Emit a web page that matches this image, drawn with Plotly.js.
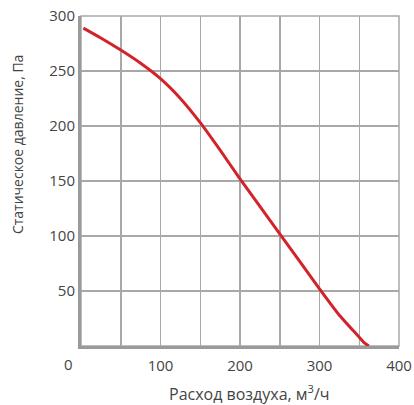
<!DOCTYPE html>
<html>
<head>
<meta charset="utf-8">
<script src="https://cdn.plot.ly/plotly-3.0.1.min.js"></script>
<style>html,body{margin:0;padding:0;background:#fff;}#chart{width:414px;height:405px;}</style>
</head>
<body>
<div id="chart"></div>
<script>
var airflow = [3, 25, 50, 75, 100, 125, 150, 175, 200, 250, 300, 325, 350, 356, 362];
var pressure = [289, 280, 269, 257, 243, 225, 203, 178, 152, 102, 52, 28, 8, 3, 0];
var xTicks = [100, 200, 300, 400];
var yTicks = [50, 100, 150, 200, 250, 300];
var xTitle = 'Расход воздуха, м<sup>3</sup>/ч';
var yTitle = 'Статическое давление, Па';
var cornerLabel = '0';

var fontFam = '"Open Sans", "Noto Sans", sans-serif';
var data = [{
  x: airflow, y: pressure, type: 'scatter', mode: 'lines',
  line: {color: '#d2232a', width: 3, shape: 'spline', smoothing: 0.5},
  hoverinfo: 'skip'
}];
var layout = {
  width: 414, height: 405,
  margin: {l: 81, r: 15, t: 16, b: 59},
  paper_bgcolor: '#fff', plot_bgcolor: '#fff',
  showlegend: false,
  font: {family: fontFam, size: 14, color: '#444'},
  xaxis: {
    range: [0, 400], tickvals: xTicks, ticktext: xTicks.map(String),
    showgrid: true, gridcolor: '#a8a8a8', gridwidth: 1.5,
    showline: true, linecolor: '#9a9a9a', linewidth: 3,
    ticks: '', zeroline: false, fixedrange: true, ticklabelstandoff: 4,
    tickfont: {family: fontFam, size: 15, color: '#444'},
    minor: {dtick: 50, tick0: 0, showgrid: true, gridcolor: '#a8a8a8', gridwidth: 1.5}
  },
  yaxis: {
    range: [0, 300], tickvals: yTicks,
    showgrid: true, gridcolor: '#a8a8a8', gridwidth: 1.5,
    showline: true, linecolor: '#9a9a9a', linewidth: 3,
    ticks: '', zeroline: false, fixedrange: true,
    tickfont: {family: fontFam, size: 15, color: '#444'}
  },
  shapes: [{
    type: 'rect', xref: 'paper', yref: 'paper', x0: 0, x1: 1, y0: 0, y1: 1,
    line: {color: '#a8a8a8', width: 1.5}, layer: 'below'
  }],
  annotations: [{
    text: cornerLabel, xref: 'paper', yref: 'paper', x: -0.038, y: -0.055,
    xanchor: 'center', yanchor: 'middle', showarrow: false,
    font: {family: fontFam, size: 15, color: '#444'}
  }, {
    text: xTitle, xref: 'paper', yref: 'paper', x: 0.531, y: -0.142,
    xanchor: 'center', yanchor: 'middle', showarrow: false,
    font: {family: fontFam, size: 16, color: '#444'}
  }, {
    text: yTitle, xref: 'paper', yref: 'paper', x: -0.201, y: 0.609,
    xanchor: 'center', yanchor: 'middle', showarrow: false, textangle: -90,
    font: {family: fontFam, size: 14, color: '#444'}
  }]
};
Plotly.newPlot('chart', data, layout, {staticPlot: true, displayModeBar: false});
</script>
</body>
</html>
